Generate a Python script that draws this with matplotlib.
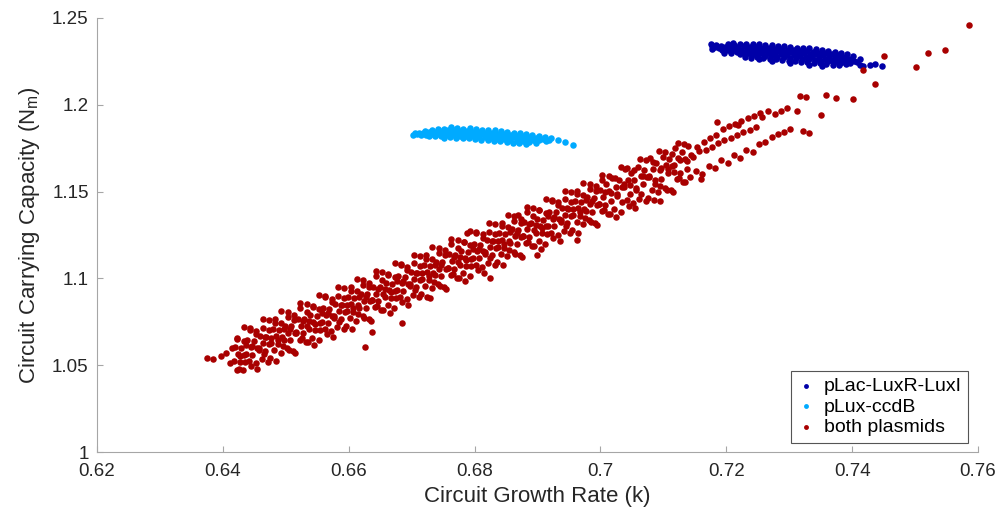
import matplotlib
matplotlib.use("Agg")
import matplotlib.pyplot as plt
from matplotlib.ticker import FuncFormatter

plt.rcParams['font.family'] = ['Liberation Sans', 'DejaVu Sans']
plt.rcParams['mathtext.default'] = 'regular'

# pLac-LuxR-LuxI (dark blue)
blue_k = [
    0.7175, 0.7178,
    0.7182, 0.7178, 0.7183,
    0.7192, 0.7188, 0.7193,
    0.7202, 0.7198, 0.7203, 0.7197,
    0.7212, 0.7208, 0.7213, 0.7207, 0.7211,
    0.7222, 0.7218, 0.7223, 0.7217, 0.7221,
    0.7232, 0.7228, 0.7233, 0.7227, 0.7231, 0.7229,
    0.7242, 0.7238, 0.7243, 0.7237, 0.7241, 0.7239,
    0.7252, 0.7248, 0.7253, 0.7247, 0.7251, 0.7249, 0.7252,
    0.7262, 0.7258, 0.7263, 0.7257, 0.7261, 0.7259,
    0.7272, 0.7268, 0.7273, 0.7267, 0.7271, 0.7269, 0.7272,
    0.7282, 0.7278, 0.7283, 0.7277, 0.7281, 0.7279,
    0.7292, 0.7288, 0.7293, 0.7287, 0.7291, 0.7289,
    0.7302, 0.7298, 0.7303, 0.7297, 0.7301, 0.7299, 0.7302,
    0.7312, 0.7308, 0.7313, 0.7307, 0.7311, 0.7309,
    0.7322, 0.7318, 0.7323, 0.7317, 0.7321, 0.7319,
    0.7332, 0.7328, 0.7333, 0.7327, 0.7331, 0.7329, 0.7332,
    0.7342, 0.7338, 0.7343, 0.7337, 0.7341, 0.7339,
    0.7352, 0.7348, 0.7353, 0.7347, 0.7351, 0.7349, 0.7352,
    0.7362, 0.7358, 0.7363, 0.7357, 0.7361, 0.7359,
    0.7372, 0.7368, 0.7373, 0.7367, 0.7371, 0.7369,
    0.7382, 0.7378, 0.7383, 0.7377, 0.7381, 0.7379,
    0.7392, 0.7388, 0.7393, 0.7387, 0.7391,
    0.7402, 0.7398, 0.7403, 0.7397,
    0.7412, 0.7408, 0.7413,
    0.7418, 0.7428, 0.7436, 0.7448,
]
blue_n = [
    1.2348, 1.2338,
    1.2335, 1.2322, 1.2346,
    1.2340, 1.2327, 1.2315,
    1.2350, 1.2332, 1.2318, 1.2300,
    1.2345, 1.2330, 1.2315, 1.2298, 1.2355,
    1.2348, 1.2333, 1.2318, 1.2303, 1.2290,
    1.2352, 1.2336, 1.2320, 1.2306, 1.2291, 1.2277,
    1.2348, 1.2332, 1.2316, 1.2300, 1.2286, 1.2270,
    1.2350, 1.2335, 1.2320, 1.2305, 1.2290, 1.2275, 1.2262,
    1.2345, 1.2330, 1.2314, 1.2298, 1.2283, 1.2268,
    1.2342, 1.2327, 1.2312, 1.2296, 1.2280, 1.2265, 1.2255,
    1.2340, 1.2324, 1.2308, 1.2293, 1.2278, 1.2262,
    1.2336, 1.2320, 1.2305, 1.2290, 1.2274, 1.2258,
    1.2333, 1.2318, 1.2302, 1.2287, 1.2271, 1.2255, 1.2243,
    1.2330, 1.2315, 1.2300, 1.2284, 1.2268, 1.2250,
    1.2328, 1.2312, 1.2296, 1.2280, 1.2264, 1.2248,
    1.2325, 1.2310, 1.2294, 1.2278, 1.2262, 1.2245, 1.2232,
    1.2320, 1.2305, 1.2290, 1.2274, 1.2258, 1.2242,
    1.2316, 1.2300, 1.2285, 1.2270, 1.2255, 1.2238, 1.2225,
    1.2312, 1.2296, 1.2280, 1.2265, 1.2250, 1.2235,
    1.2305, 1.2290, 1.2275, 1.2260, 1.2244, 1.2230,
    1.2298, 1.2284, 1.2270, 1.2255, 1.2240, 1.2228,
    1.2290, 1.2276, 1.2262, 1.2248, 1.2234,
    1.2280, 1.2266, 1.2252, 1.2238,
    1.2262, 1.2245, 1.2232,
    1.2224, 1.2230, 1.2236, 1.2226,
]

# pLux-ccdB (light blue)
cyan_k = [
    0.6702,
    0.6708, 0.6706,
    0.6712, 0.6715,
    0.6722, 0.6718, 0.6723,
    0.6732, 0.6728, 0.6733, 0.6727,
    0.6742, 0.6738, 0.6743, 0.6737,
    0.6752, 0.6748, 0.6753, 0.6747, 0.6751,
    0.6762, 0.6758, 0.6763, 0.6757, 0.6761,
    0.6772, 0.6768, 0.6773, 0.6767, 0.6771,
    0.6782, 0.6778, 0.6783, 0.6777, 0.6781,
    0.6792, 0.6788, 0.6793, 0.6787, 0.6791,
    0.6802, 0.6798, 0.6803, 0.6797, 0.6801,
    0.6812, 0.6808, 0.6813, 0.6807, 0.6811,
    0.6822, 0.6818, 0.6823, 0.6817, 0.6821,
    0.6832, 0.6828, 0.6833, 0.6827, 0.6831,
    0.6842, 0.6838, 0.6843, 0.6837, 0.6841,
    0.6852, 0.6848, 0.6853, 0.6847, 0.6851,
    0.6862, 0.6858, 0.6863, 0.6857, 0.6861,
    0.6872, 0.6868, 0.6873, 0.6867, 0.6871,
    0.6882, 0.6878, 0.6883, 0.6877, 0.6881,
    0.6892, 0.6888, 0.6893, 0.6887,
    0.6902, 0.6898, 0.6903, 0.6897,
    0.6912, 0.6908, 0.6913,
    0.6922, 0.6918,
    0.6932, 0.6944, 0.6957,
]
cyan_n = [
    1.1826,
    1.1832, 1.1840,
    1.1838, 1.1825,
    1.1850, 1.1838, 1.1826,
    1.1855, 1.1842, 1.1830, 1.1818,
    1.1858, 1.1845, 1.1832, 1.1820,
    1.1862, 1.1848, 1.1835, 1.1822, 1.1810,
    1.1870, 1.1855, 1.1840, 1.1827, 1.1814,
    1.1866, 1.1852, 1.1838, 1.1824, 1.1810,
    1.1862, 1.1848, 1.1834, 1.1820, 1.1807,
    1.1865, 1.1850, 1.1836, 1.1822, 1.1808,
    1.1860, 1.1846, 1.1832, 1.1818, 1.1804,
    1.1857, 1.1843, 1.1829, 1.1815, 1.1800,
    1.1855, 1.1840, 1.1826, 1.1812, 1.1798,
    1.1852, 1.1838, 1.1823, 1.1808, 1.1794,
    1.1848, 1.1834, 1.1820, 1.1805, 1.1790,
    1.1845, 1.1830, 1.1816, 1.1802, 1.1788,
    1.1840, 1.1826, 1.1812, 1.1798, 1.1782,
    1.1836, 1.1822, 1.1808, 1.1794, 1.1780,
    1.1832, 1.1818, 1.1804, 1.1790, 1.1776,
    1.1828, 1.1814, 1.1800, 1.1786,
    1.1822, 1.1808, 1.1795, 1.1782,
    1.1815, 1.1802, 1.1790,
    1.1808, 1.1796,
    1.1800, 1.1786, 1.1768,
]

# both plasmids (dark red)
red_k = [
    0.6375, 0.6385, 0.6397, 0.6405, 0.6412, 0.6415,
    0.6422, 0.6417, 0.6424, 0.6419, 0.6423,
    0.6432, 0.6427, 0.6434, 0.6429, 0.6433,
    0.6442, 0.6437, 0.6444, 0.6439, 0.6443,
    0.6452, 0.6447, 0.6454, 0.6449, 0.6453,
    0.6462, 0.6457, 0.6464, 0.6459, 0.6463,
    0.6472, 0.6467, 0.6474, 0.6469, 0.6473,
    0.6482, 0.6477, 0.6484, 0.6479, 0.6483,
    0.6492, 0.6487, 0.6494, 0.6489, 0.6493,
    0.6502, 0.6497, 0.6504, 0.6499, 0.6503,
    0.6512, 0.6507, 0.6514, 0.6509, 0.6513,
    0.6522, 0.6517, 0.6524, 0.6519, 0.6523,
    0.6532, 0.6527, 0.6534, 0.6529, 0.6533,
    0.6542, 0.6537, 0.6544, 0.6539, 0.6543,
    0.6552, 0.6547, 0.6554, 0.6549, 0.6553,
    0.6562, 0.6557, 0.6564, 0.6559, 0.6563,
    0.6572, 0.6567, 0.6574, 0.6569, 0.6573,
    0.6582, 0.6577, 0.6584, 0.6579, 0.6583,
    0.6592, 0.6587, 0.6594, 0.6589, 0.6593,
    0.6602, 0.6597, 0.6604, 0.6599, 0.6603,
    0.6612, 0.6607, 0.6614, 0.6609, 0.6613,
    0.6622, 0.6617, 0.6624, 0.6619, 0.6623,
    0.6632, 0.6627, 0.6634, 0.6629, 0.6633,
    0.6642, 0.6637, 0.6644, 0.6639, 0.6643,
    0.6652, 0.6647, 0.6654, 0.6649, 0.6653,
    0.6662, 0.6657, 0.6664, 0.6659, 0.6663,
    0.6672, 0.6667, 0.6674, 0.6669, 0.6673,
    0.6682, 0.6677, 0.6684, 0.6679, 0.6683,
    0.6692, 0.6687, 0.6694, 0.6689, 0.6693,
    0.6702, 0.6697, 0.6704, 0.6699, 0.6703,
    0.6712, 0.6707, 0.6714, 0.6709, 0.6713,
    0.6722, 0.6717, 0.6724, 0.6719, 0.6723,
    0.6732, 0.6727, 0.6734, 0.6729, 0.6733,
    0.6742, 0.6737, 0.6744, 0.6739, 0.6743,
    0.6752, 0.6747, 0.6754, 0.6749, 0.6753,
    0.6762, 0.6757, 0.6764, 0.6759, 0.6763,
    0.6772, 0.6767, 0.6774, 0.6769, 0.6773,
    0.6782, 0.6777, 0.6784, 0.6779, 0.6783,
    0.6792, 0.6787, 0.6794, 0.6789, 0.6793,
    0.6802, 0.6797, 0.6804, 0.6799, 0.6803,
    0.6812, 0.6807, 0.6814, 0.6809, 0.6813,
    0.6822, 0.6817, 0.6824, 0.6819, 0.6823,
    0.6832, 0.6827, 0.6834, 0.6829, 0.6833,
    0.6842, 0.6837, 0.6844, 0.6839, 0.6843,
    0.6852, 0.6847, 0.6854, 0.6849, 0.6853,
    0.6862, 0.6857, 0.6864, 0.6859, 0.6863,
    0.6872, 0.6867, 0.6874, 0.6869, 0.6873,
    0.6882, 0.6877, 0.6884, 0.6879, 0.6883,
    0.6892, 0.6887, 0.6894, 0.6889, 0.6893,
    0.6902, 0.6897, 0.6904, 0.6899, 0.6903,
    0.6912, 0.6907, 0.6914, 0.6909, 0.6913,
    0.6922, 0.6917, 0.6924, 0.6919, 0.6923,
    0.6932, 0.6927, 0.6934, 0.6929, 0.6933,
    0.6942, 0.6937, 0.6944, 0.6939, 0.6943,
    0.6952, 0.6947, 0.6954, 0.6949, 0.6953,
    0.6962, 0.6957, 0.6964, 0.6959, 0.6963,
    0.6972, 0.6967, 0.6974, 0.6969, 0.6973,
    0.6982, 0.6977, 0.6984, 0.6979, 0.6983,
    0.6992, 0.6987, 0.6994, 0.6989, 0.6993,
    0.7002, 0.6997, 0.7004, 0.6999, 0.7003,
    0.7012, 0.7007, 0.7014, 0.7009,
    0.7022, 0.7017, 0.7024, 0.7019,
    0.7032, 0.7027, 0.7034, 0.7029,
    0.7042, 0.7037, 0.7044, 0.7039,
    0.7052, 0.7047, 0.7054, 0.7049,
    0.7062, 0.7057, 0.7064, 0.7059,
    0.7072, 0.7067, 0.7074, 0.7069,
    0.7082, 0.7077, 0.7084, 0.7079,
    0.7092, 0.7087, 0.7094, 0.7089,
    0.7102, 0.7097, 0.7104, 0.7099,
    0.7112, 0.7107, 0.7114, 0.7109,
    0.7122, 0.7117, 0.7124, 0.7119,
    0.7132, 0.7127, 0.7134, 0.7129,
    0.7142, 0.7137, 0.7144, 0.7139,
    0.7152, 0.7147, 0.7154,
    0.7162, 0.7157, 0.7164,
    0.7172, 0.7167, 0.7174,
    0.7182, 0.7177, 0.7184,
    0.7192, 0.7187, 0.7194,
    0.7202, 0.7197, 0.7204,
    0.7212, 0.7207, 0.7214,
    0.7222, 0.7217, 0.7224,
    0.7232, 0.7227, 0.7234,
    0.7242, 0.7237, 0.7244,
    0.7252, 0.7247, 0.7254,
    0.7262, 0.7257,
    0.7272, 0.7267,
    0.7282, 0.7277,
    0.7292, 0.7287,
    0.7302, 0.7297,
    0.7312,
    0.7322, 0.7317,
    0.7332, 0.7327,
    0.6788, 0.6869, 0.6963, 0.6900, 0.6825, 0.6729, 0.6626, 0.6637, 0.6685,
    0.7095, 0.7160, 0.7186, 0.7219,
    0.7351, 0.7359, 0.7375, 0.7402, 0.7418, 0.7437, 0.7450, 0.7502, 0.7520,
    0.7548, 0.7585,
]
red_n = [
    1.0542, 1.0536, 1.0552, 1.0568, 1.0515, 1.0600,
    1.0474, 1.0524, 1.0564, 1.0604, 1.0654,
    1.0470, 1.0520, 1.0560, 1.0600, 1.0640,
    1.0525, 1.0565, 1.0605, 1.0645, 1.0705,
    1.0511, 1.0561, 1.0601, 1.0641, 1.0681,
    1.0536, 1.0586, 1.0626, 1.0666, 1.0716,
    1.0521, 1.0581, 1.0621, 1.0661, 1.0701,
    1.0587, 1.0627, 1.0667, 1.0707, 1.0767,
    1.0572, 1.0622, 1.0662, 1.0702, 1.0742,
    1.0598, 1.0648, 1.0688, 1.0728, 1.0778,
    1.0583, 1.0643, 1.0683, 1.0723, 1.0763,
    1.0648, 1.0688, 1.0728, 1.0768, 1.0828,
    1.0634, 1.0684, 1.0724, 1.0764, 1.0804,
    1.0659, 1.0709, 1.0749, 1.0789, 1.0839,
    1.0645, 1.0705, 1.0745, 1.0785, 1.0825,
    1.0710, 1.0750, 1.0790, 1.0830, 1.0890,
    1.0695, 1.0745, 1.0785, 1.0825, 1.0865,
    1.0721, 1.0771, 1.0811, 1.0851, 1.0901,
    1.0706, 1.0766, 1.0806, 1.0846, 1.0886,
    1.0772, 1.0812, 1.0852, 1.0892, 1.0952,
    1.0757, 1.0807, 1.0847, 1.0887, 1.0927,
    1.0782, 1.0832, 1.0872, 1.0912, 1.0962,
    1.0768, 1.0828, 1.0868, 1.0908, 1.0948,
    1.0833, 1.0873, 1.0913, 1.0953, 1.1013,
    1.0819, 1.0869, 1.0909, 1.0949, 1.0989,
    1.0844, 1.0894, 1.0934, 1.0974, 1.1024,
    1.0829, 1.0889, 1.0929, 1.0969, 1.1009,
    1.0895, 1.0935, 1.0975, 1.1015, 1.1075,
    1.0880, 1.0930, 1.0970, 1.1010, 1.1050,
    1.0906, 1.0956, 1.0996, 1.1036, 1.1086,
    1.0891, 1.0951, 1.0991, 1.1031, 1.1071,
    1.0956, 1.0996, 1.1036, 1.1076, 1.1136,
    1.0942, 1.0992, 1.1032, 1.1072, 1.1112,
    1.0967, 1.1017, 1.1057, 1.1097, 1.1147,
    1.0953, 1.1013, 1.1053, 1.1093, 1.1133,
    1.1018, 1.1058, 1.1098, 1.1138, 1.1198,
    1.1003, 1.1053, 1.1093, 1.1133, 1.1173,
    1.1029, 1.1079, 1.1119, 1.1159, 1.1209,
    1.1014, 1.1074, 1.1114, 1.1154, 1.1194,
    1.1080, 1.1120, 1.1160, 1.1200, 1.1260,
    1.1065, 1.1115, 1.1155, 1.1195, 1.1235,
    1.1090, 1.1140, 1.1180, 1.1220, 1.1270,
    1.1076, 1.1136, 1.1176, 1.1216, 1.1256,
    1.1141, 1.1181, 1.1221, 1.1261, 1.1321,
    1.1127, 1.1177, 1.1217, 1.1257, 1.1297,
    1.1152, 1.1202, 1.1242, 1.1282, 1.1332,
    1.1137, 1.1197, 1.1237, 1.1277, 1.1317,
    1.1203, 1.1243, 1.1283, 1.1323, 1.1383,
    1.1188, 1.1238, 1.1278, 1.1318, 1.1358,
    1.1214, 1.1264, 1.1304, 1.1344, 1.1394,
    1.1199, 1.1259, 1.1299, 1.1339, 1.1379,
    1.1264, 1.1304, 1.1344, 1.1384, 1.1444,
    1.1250, 1.1300, 1.1340, 1.1380, 1.1420,
    1.1275, 1.1325, 1.1365, 1.1405, 1.1455,
    1.1261, 1.1321, 1.1361, 1.1401, 1.1441,
    1.1326, 1.1366, 1.1406, 1.1446, 1.1506,
    1.1311, 1.1361, 1.1401, 1.1441, 1.1481,
    1.1337, 1.1387, 1.1427, 1.1467, 1.1517,
    1.1322, 1.1382, 1.1422, 1.1462, 1.1502,
    1.1388, 1.1428, 1.1468, 1.1508, 1.1568,
    1.1373, 1.1423, 1.1503, 1.1543,
    1.1398, 1.1448, 1.1528, 1.1578,
    1.1384, 1.1484, 1.1524, 1.1564,
    1.1449, 1.1529, 1.1569, 1.1629,
    1.1435, 1.1485, 1.1565, 1.1605,
    1.1460, 1.1510, 1.1590, 1.1640,
    1.1445, 1.1545, 1.1585, 1.1625,
    1.1511, 1.1591, 1.1631, 1.1691,
    1.1496, 1.1546, 1.1626, 1.1666,
    1.1522, 1.1572, 1.1652, 1.1702,
    1.1507, 1.1607, 1.1647, 1.1687,
    1.1572, 1.1652, 1.1692, 1.1752,
    1.1558, 1.1608, 1.1688, 1.1728,
    1.1583, 1.1633, 1.1713, 1.1763,
    1.1619, 1.1699, 1.1759,
    1.1604, 1.1734, 1.1784,
    1.1649, 1.1739, 1.1809,
    1.1635, 1.1755, 1.1825,
    1.1680, 1.1780, 1.1860,
    1.1666, 1.1796, 1.1876,
    1.1711, 1.1811, 1.1891,
    1.1696, 1.1826, 1.1906,
    1.1742, 1.1842, 1.1922,
    1.1727, 1.1857, 1.1937,
    1.1773, 1.1873, 1.1953,
    1.1788, 1.1928,
    1.1813, 1.1963,
    1.1829, 1.1949,
    1.1844, 1.1964,
    1.1860, 1.1980,
    1.1965,
    1.1850, 1.2050,
    1.1840, 1.2045,
    1.1262, 1.1365, 1.1221, 1.1135, 1.1002, 1.0887, 1.0605, 1.0691, 1.0743,
    1.1446, 1.1573, 1.1900, 1.1884,
    1.1941, 1.2056, 1.2039, 1.2033, 1.2200, 1.2120, 1.2281, 1.2218, 1.2298,
    1.2316, 1.2460,
]

# more "both plasmids" points read between the columns above
red_mid_k = [
    0.6425, 0.6427, 0.6423, 0.6435, 0.6437, 0.6433, 0.6445, 0.6447, 0.6443,
    0.6455, 0.6457, 0.6453, 0.6465, 0.6467, 0.6463, 0.6475, 0.6477, 0.6473,
    0.6485, 0.6487, 0.6483, 0.6495, 0.6497, 0.6493, 0.6505, 0.6507, 0.6503,
    0.6515, 0.6517, 0.6513, 0.6525, 0.6527, 0.6523, 0.6535, 0.6537, 0.6533,
    0.6545, 0.6547, 0.6543, 0.6555, 0.6557, 0.6553, 0.6565, 0.6567, 0.6563,
    0.6575, 0.6577, 0.6573, 0.6585, 0.6587, 0.6583, 0.6595, 0.6597, 0.6593,
    0.6605, 0.6607, 0.6603, 0.6615, 0.6617, 0.6613, 0.6625, 0.6627, 0.6623,
    0.6635, 0.6637, 0.6633, 0.6645, 0.6647, 0.6643, 0.6655, 0.6657, 0.6653,
    0.6665, 0.6667, 0.6663, 0.6675, 0.6677, 0.6673, 0.6685, 0.6687, 0.6683,
    0.6695, 0.6697, 0.6693, 0.6705, 0.6707, 0.6703, 0.6715, 0.6717, 0.6713,
    0.6725, 0.6727, 0.6723, 0.6735, 0.6737, 0.6733, 0.6745, 0.6747, 0.6743,
    0.6755, 0.6757, 0.6753, 0.6765, 0.6767, 0.6763, 0.6775, 0.6777, 0.6773,
    0.6785, 0.6787, 0.6783, 0.6795, 0.6797, 0.6793, 0.6805, 0.6807, 0.6803,
    0.6815, 0.6817, 0.6813, 0.6825, 0.6827, 0.6823, 0.6835, 0.6837, 0.6833,
    0.6845, 0.6847, 0.6843, 0.6855, 0.6857, 0.6853, 0.6865, 0.6867, 0.6863,
    0.6875, 0.6877, 0.6873, 0.6885, 0.6887, 0.6883, 0.6895, 0.6897, 0.6893,
    0.6905, 0.6907, 0.6903, 0.6915, 0.6917, 0.6913, 0.6925, 0.6927, 0.6923,
    0.6935, 0.6937, 0.6933, 0.6945, 0.6947, 0.6943, 0.6955, 0.6957, 0.6953,
    0.6965, 0.6967, 0.6963, 0.6975, 0.6977, 0.6973, 0.6985, 0.6987, 0.6983,
    0.6995, 0.6997, 0.6993, 0.7005, 0.7007, 0.7003, 0.7015, 0.7017, 0.7013,
    0.7025, 0.7027, 0.7023, 0.7035, 0.7037, 0.7033, 0.7045, 0.7047, 0.7043,
    0.7055, 0.7057, 0.7053, 0.7065, 0.7067, 0.7063, 0.7075, 0.7077, 0.7073,
    0.7085, 0.7087, 0.7083, 0.7095, 0.7097, 0.7093, 0.7105, 0.7107, 0.7103,
    0.7115, 0.7117, 0.7113, 0.7125, 0.7127, 0.7123, 0.7135, 0.7137, 0.7133,
]
red_mid_n = [
    1.0480, 1.0552, 1.0652, 1.0518, 1.0618, 1.0718, 1.0493, 1.0613, 1.0713,
    1.0479, 1.0599, 1.0699, 1.0564, 1.0664, 1.0764, 1.0539, 1.0659, 1.0759,
    1.0525, 1.0645, 1.0745, 1.0610, 1.0710, 1.0810, 1.0586, 1.0706, 1.0806,
    1.0571, 1.0691, 1.0791, 1.0656, 1.0756, 1.0856, 1.0632, 1.0752, 1.0852,
    1.0617, 1.0737, 1.0837, 1.0703, 1.0803, 1.0903, 1.0678, 1.0798, 1.0898,
    1.0663, 1.0783, 1.0883, 1.0749, 1.0849, 1.0949, 1.0724, 1.0844, 1.0944,
    1.0710, 1.0830, 1.0930, 1.0795, 1.0895, 1.0995, 1.0770, 1.0890, 1.0990,
    1.0756, 1.0876, 1.0976, 1.0841, 1.0941, 1.1041, 1.0817, 1.0937, 1.1037,
    1.0802, 1.0922, 1.1022, 1.0887, 1.0987, 1.1087, 1.0863, 1.0983, 1.1083,
    1.0848, 1.0968, 1.1068, 1.0934, 1.1034, 1.1134, 1.0909, 1.1029, 1.1129,
    1.0894, 1.1014, 1.1114, 1.0980, 1.1080, 1.1180, 1.0955, 1.1075, 1.1175,
    1.0941, 1.1061, 1.1161, 1.1026, 1.1126, 1.1226, 1.1001, 1.1121, 1.1221,
    1.0987, 1.1107, 1.1207, 1.1072, 1.1172, 1.1272, 1.1048, 1.1168, 1.1268,
    1.1033, 1.1153, 1.1253, 1.1118, 1.1218, 1.1318, 1.1094, 1.1214, 1.1314,
    1.1079, 1.1199, 1.1299, 1.1165, 1.1265, 1.1365, 1.1140, 1.1260, 1.1360,
    1.1125, 1.1245, 1.1345, 1.1211, 1.1311, 1.1411, 1.1186, 1.1306, 1.1406,
    1.1172, 1.1292, 1.1392, 1.1257, 1.1357, 1.1457, 1.1232, 1.1352, 1.1452,
    1.1218, 1.1338, 1.1438, 1.1303, 1.1403, 1.1503, 1.1279, 1.1399, 1.1499,
    1.1264, 1.1384, 1.1484, 1.1349, 1.1449, 1.1549, 1.1325, 1.1445, 1.1545,
    1.1310, 1.1430, 1.1530, 1.1396, 1.1496, 1.1596, 1.1371, 1.1491, 1.1591,
    1.1356, 1.1476, 1.1576, 1.1442, 1.1542, 1.1642, 1.1417, 1.1537, 1.1637,
    1.1403, 1.1523, 1.1623, 1.1488, 1.1588, 1.1688, 1.1463, 1.1583, 1.1683,
    1.1449, 1.1569, 1.1669, 1.1534, 1.1634, 1.1734, 1.1510, 1.1630, 1.1730,
    1.1495, 1.1615, 1.1715, 1.1580, 1.1680, 1.1780, 1.1556, 1.1676, 1.1776,
]

x_ticks = [0.62, 0.64, 0.66, 0.68, 0.70, 0.72, 0.74, 0.76]
y_ticks = [1.00, 1.05, 1.10, 1.15, 1.20, 1.25]

fig = plt.figure(figsize=(10, 5.14), dpi=100)
ax = fig.add_axes([0.097, 0.1206, 0.881, 0.8444])

ax.scatter(blue_k, blue_n, s=22, color='#0000A8', linewidths=0, label='pLac-LuxR-LuxI')
ax.scatter(cyan_k, cyan_n, s=22, color='#00AAFF', linewidths=0, label='pLux-ccdB')
ax.scatter(red_k + red_mid_k, red_n + red_mid_n, s=22, color='#A80000', linewidths=0,
           label='both plasmids')

ax.set_xlim(0.62, 0.76)
ax.set_ylim(1.0, 1.25)
ax.set_xticks(x_ticks)
ax.set_yticks(y_ticks)
fmt = FuncFormatter(lambda v, p: '%g' % round(v, 4))
ax.xaxis.set_major_formatter(fmt)
ax.yaxis.set_major_formatter(fmt)

for side in ['top', 'right']:
    ax.spines[side].set_visible(False)
for side in ['left', 'bottom']:
    ax.spines[side].set_color('#a6a6a6')
    ax.spines[side].set_linewidth(0.8)
ax.tick_params(direction='in', length=4.5, width=0.8, color='#a6a6a6',
               labelsize=13.5, labelcolor='#262626')
ax.tick_params(axis='x', pad=8)
ax.tick_params(axis='y', pad=6)

ax.set_xlabel('Circuit Growth Rate (k)', fontsize=16, color='#262626', labelpad=4)
ax.set_ylabel('Circuit Carrying Capacity (N$_{m}$)', fontsize=16, color='#262626', labelpad=7)

leg = ax.legend(loc='lower right', bbox_to_anchor=(0.989, 0.021), fontsize=14,
                frameon=True, fancybox=False, edgecolor='#555555', framealpha=1,
                scatterpoints=1, markerscale=0.75, handlelength=0.8, handletextpad=0.5,
                labelspacing=0.15, borderpad=0.35, borderaxespad=0)
leg.get_frame().set_linewidth(0.8)

fig.savefig('out.png', dpi=100)
